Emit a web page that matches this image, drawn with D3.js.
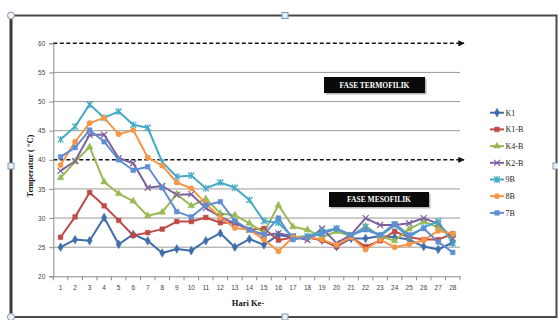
<!DOCTYPE html>
<html>
<head>
<meta charset="utf-8">
<script src="https://cdn.jsdelivr.net/npm/d3@7"></script>
<style>
  html, body { margin: 0; padding: 0; background: #fff; }
  svg { display: block; }
</style>
</head>
<body>
<svg id="chart" width="558" height="320"></svg>
<script>
// Days of composting (Hari Ke-)
const days = d3.range(1, 29);

// Temperature readings (°C) per treatment
const K1  = [25.0, 26.3, 26.1, 30.1, 25.5, 27.2, 26.1, 24.0, 24.7, 24.4, 26.1, 27.4, 25.0, 26.4, 25.4, 27.1, 26.7, 26.7, 26.2, 25.1, 26.5, 26.5, 26.9, 26.7, 26.3, 25.1, 24.6, 25.8];
const K1B = [26.7, 30.2, 34.4, 32.1, 29.6, 27.0, 27.5, 28.1, 29.4, 29.4, 30.1, 29.2, 29.2, 28.0, 28.2, 26.2, 26.7, 26.7, 26.2, 25.1, 26.7, 25.1, 26.1, 27.7, 26.7, 26.3, 26.3, 27.3];
const K4B = [36.9, 39.7, 42.2, 36.2, 34.2, 32.9, 30.4, 31.0, 34.1, 32.1, 33.3, 30.8, 30.5, 29.1, 27.5, 32.2, 28.5, 28.0, 26.7, 27.7, 26.9, 28.6, 26.9, 26.1, 28.1, 29.4, 28.4, 26.9];
const K2B = [38.1, 39.8, 44.3, 44.3, 40.3, 39.4, 35.2, 35.5, 34.0, 34.1, 31.7, 30.2, 29.1, 28.0, 27.0, 27.4, 26.9, 26.2, 28.2, 25.7, 27.1, 30.0, 28.8, 28.8, 29.1, 30.0, 29.0, 26.5];
const B9  = [43.5, 45.7, 49.5, 47.2, 48.3, 46.0, 45.5, 39.6, 37.1, 37.3, 35.1, 36.1, 35.2, 33.1, 29.5, 29.2, 26.7, 26.9, 27.7, 28.2, 26.9, 28.5, 26.9, 28.8, 26.7, 28.4, 29.4, 25.7];
const B8  = [39.1, 43.1, 46.3, 47.2, 44.4, 45.1, 40.4, 39.0, 36.1, 35.1, 32.5, 30.1, 28.3, 28.0, 26.3, 24.3, 26.7, 26.7, 26.3, 25.4, 26.7, 24.6, 26.3, 25.0, 25.5, 26.2, 27.8, 27.3];
const B7  = [40.5, 42.1, 45.1, 43.1, 40.0, 38.2, 38.8, 35.2, 31.1, 30.2, 32.2, 32.8, 29.5, 28.0, 27.2, 30.0, 26.3, 26.7, 27.3, 28.2, 27.1, 28.0, 27.1, 29.0, 27.1, 28.2, 25.9, 24.1];

const seriesNames  = ["K1", "K1-B", "K4-B", "K2-B", "9B", "8B", "7B"];
const seriesValues = [K1, K1B, K4B, K2B, B9, B8, B7];
const seriesColors = ["#3F6DAA", "#BE4B48", "#98B954", "#7D60A0", "#46AAC5", "#F79646", "#5F8FD3"];
const seriesMarks  = ["diamond", "square", "triangle", "cross", "star", "circle", "square"];

const yTicks = [20, 25, 30, 35, 40, 45, 50, 55, 60];
const gridValues = [25, 30, 35, 45, 50, 55];
const phaseLines = [60, 40];
const phaseLabels = [
  { text: "FASE TERMOFILIK", x0: 324, y0: 77, w: 101, h: 16 },
  { text: "FASE MESOFILIK",  x0: 329, y0: 192, w: 100, h: 15 }
];

const svg = d3.select("#chart");

// Document frame around the figure
svg.append("rect").attr("x", 11).attr("y", 15.5).attr("width", 545.5).attr("height", 301.5)
  .attr("fill", "#fff").attr("stroke", "#4a4a4a").attr("stroke-width", 2);
svg.append("line").attr("x1", 11).attr("x2", 11).attr("y1", 15).attr("y2", 318)
  .attr("stroke", "#3a3a3a").attr("stroke-width", 3);

const plotLeft = 53.3, plotRight = 460, plotTop = 43.3, plotBottom = 276.3;

const x = d3.scaleBand().domain(days).range([plotLeft, plotRight]).padding(0);
const cx = d => x(d) + x.bandwidth() / 2;
const y = d3.scaleLinear().domain([20, 60]).range([plotBottom, plotTop]);

// Arrowhead for the phase lines
svg.append("defs").append("marker")
  .attr("id", "arrow").attr("viewBox", "0 0 10 10").attr("refX", 9).attr("refY", 5)
  .attr("markerWidth", 4.5).attr("markerHeight", 4.5).attr("orient", "auto")
  .append("path").attr("d", "M0,0 L10,5 L0,10 z").attr("fill", "#111");

// Horizontal gridlines
svg.append("g").selectAll("line").data(gridValues).join("line")
  .attr("x1", plotLeft).attr("x2", plotRight)
  .attr("y1", d => y(d)).attr("y2", d => y(d))
  .attr("stroke", "#9a9a9a").attr("stroke-width", 1);

// Phase boundary lines (dashed, with arrows)
svg.append("g").selectAll("line").data(phaseLines).join("line")
  .attr("x1", plotLeft).attr("x2", plotRight + 4)
  .attr("y1", d => y(d)).attr("y2", d => y(d))
  .attr("stroke", "#111").attr("stroke-width", 1.4)
  .attr("stroke-dasharray", "4,2.5")
  .attr("marker-end", "url(#arrow)");

// Y axis
const yAxis = svg.append("g").attr("transform", `translate(${plotLeft},0)`)
  .call(d3.axisLeft(y).tickValues(yTicks).tickSize(4).tickPadding(4).tickFormat(d3.format("d")));
yAxis.select(".domain").attr("stroke", "#8a8a8a");
yAxis.selectAll(".tick line").attr("stroke", "#8a8a8a");
yAxis.selectAll("text").attr("font-family", "Liberation Sans, Arial, sans-serif")
  .attr("font-size", 6.5).attr("fill", "#444");

// X axis
const xAxis = svg.append("g").attr("transform", `translate(0,${plotBottom})`)
  .call(d3.axisBottom(x).tickSize(0).tickPadding(9).tickSizeOuter(0));
xAxis.select(".domain").attr("stroke", "#8a8a8a");
xAxis.selectAll("text").attr("font-family", "Liberation Sans, Arial, sans-serif")
  .attr("font-size", 6.5).attr("fill", "#444");
// Tick marks at category boundaries
xAxis.append("g").selectAll("line").data(days.concat([29])).join("line")
  .attr("x1", d => d <= 28 ? x(d) : plotRight).attr("x2", d => d <= 28 ? x(d) : plotRight)
  .attr("y1", 0).attr("y2", 4).attr("stroke", "#8a8a8a");

// Axis titles
svg.append("text").attr("x", 248).attr("y", 306).attr("text-anchor", "middle")
  .attr("font-family", "Liberation Serif, Times New Roman, serif").attr("font-weight", "bold")
  .attr("font-size", 8.5).attr("fill", "#111").text("Hari Ke-");
svg.append("text").attr("transform", "translate(33,166) rotate(-90)").attr("text-anchor", "middle")
  .attr("font-family", "Liberation Serif, Times New Roman, serif").attr("font-weight", "bold")
  .attr("font-size", 8.5).attr("fill", "#111").text("Temperatur ( °C)");

// Marker shapes
const symbolFor = {
  diamond: d3.symbol().type(d3.symbolDiamond).size(22),
  square: d3.symbol().type(d3.symbolSquare).size(22),
  triangle: d3.symbol().type(d3.symbolTriangle).size(20),
  circle: d3.symbol().type(d3.symbolCircle).size(22)
};
function drawMarker(g, kind, color) {
  if (kind === "cross" || kind === "star") {
    const r = 3;
    let p = `M${-r},${-r}L${r},${r}M${-r},${r}L${r},${-r}`;
    if (kind === "star") p += `M0,${-r - 0.5}L0,${r + 0.5}`;
    g.append("path").attr("d", p).attr("stroke", color).attr("stroke-width", 1.2).attr("fill", "none");
  } else {
    g.append("path").attr("d", symbolFor[kind]()).attr("fill", color).attr("stroke", color).attr("stroke-width", 0.5);
  }
}

// Series lines and markers
const line = d3.line().x((d, i) => cx(days[i])).y(d => y(d));
const seriesG = svg.append("g");
seriesValues.forEach((vals, s) => {
  seriesG.append("path").datum(vals).attr("d", line)
    .attr("fill", "none").attr("stroke", seriesColors[s]).attr("stroke-width", 2)
    .attr("stroke-linejoin", "round");
});
seriesValues.forEach((vals, s) => {
  vals.forEach((v, i) => {
    const g = seriesG.append("g").attr("transform", `translate(${cx(days[i])},${y(v)})`);
    drawMarker(g, seriesMarks[s], seriesColors[s]);
  });
});

// Phase label boxes
phaseLabels.forEach(p => {
  svg.append("rect").attr("x", p.x0 + 1.5).attr("y", p.y0 + 1.5).attr("width", p.w).attr("height", p.h)
    .attr("fill", "#888").attr("opacity", 0.6);
  svg.append("rect").attr("x", p.x0).attr("y", p.y0).attr("width", p.w).attr("height", p.h)
    .attr("fill", "#0a0a0a");
  svg.append("text").attr("x", p.x0 + p.w / 2).attr("y", p.y0 + p.h / 2 + 2.5)
    .attr("text-anchor", "middle").attr("fill", "#fff")
    .attr("font-family", "Liberation Serif, Times New Roman, serif").attr("font-weight", "bold")
    .attr("font-size", 7.5).text(p.text);
});

// Legend
const legend = svg.append("g");
seriesNames.forEach((name, s) => {
  const ly = 112.7 + s * 16.7;
  legend.append("line").attr("x1", 490).attr("x2", 504).attr("y1", ly).attr("y2", ly)
    .attr("stroke", seriesColors[s]).attr("stroke-width", 2);
  const g = legend.append("g").attr("transform", `translate(497,${ly})`);
  drawMarker(g, seriesMarks[s], seriesColors[s]);
  legend.append("text").attr("x", 505.5).attr("y", ly + 2.8)
    .attr("font-family", "Liberation Serif, Times New Roman, serif")
    .attr("font-size", 8).attr("fill", "#222").text(name);
});

// Selection handles on the frame
const handles = svg.append("g");
[[11, 15.5], [11, 317]].forEach(([hx, hy]) => {
  handles.append("circle").attr("cx", hx).attr("cy", hy).attr("r", 3.5)
    .attr("fill", "#eef2f6").attr("stroke", "#8a96a4").attr("stroke-width", 1);
});
[[285, 15.5], [11, 166], [285, 317], [556, 166]].forEach(([hx, hy]) => {
  handles.append("rect").attr("x", hx - 3).attr("y", hy - 3).attr("width", 6).attr("height", 6)
    .attr("fill", "#e8f0f8").attr("stroke", "#7f9ab8").attr("stroke-width", 1);
});
</script>
</body>
</html>
